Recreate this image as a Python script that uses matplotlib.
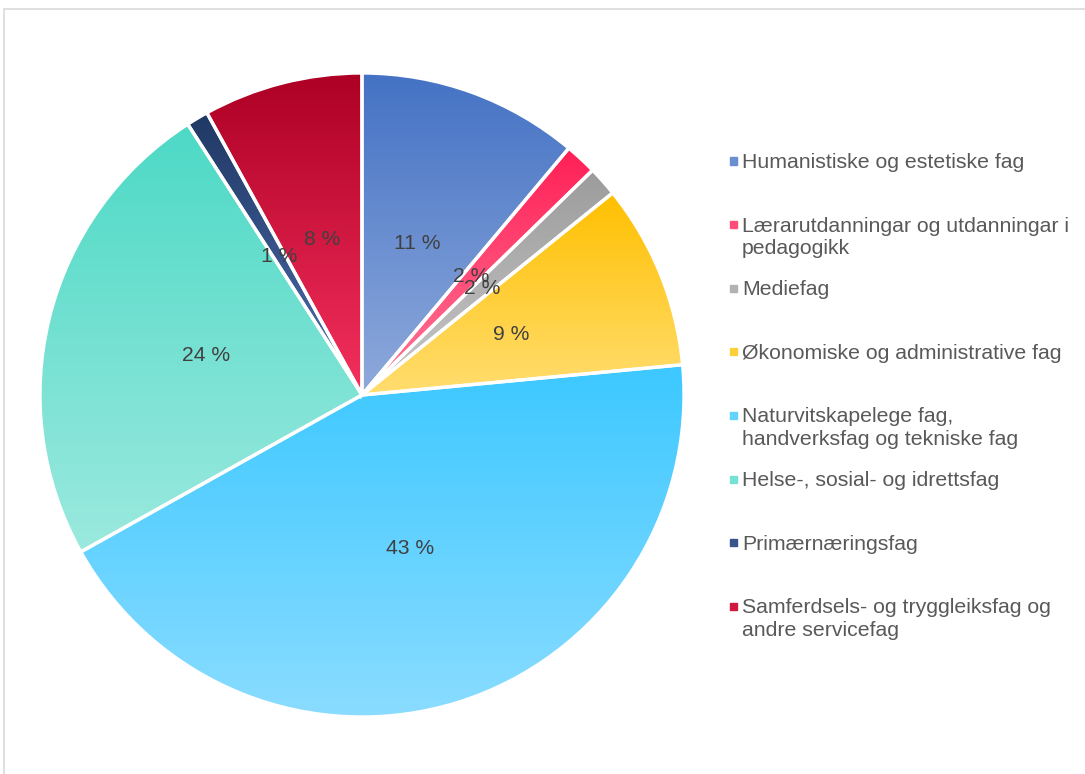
import matplotlib.pyplot as plt
import matplotlib.colors as mcolors
from matplotlib.patches import Rectangle
import numpy as np

plt.rcParams['font.family'] = ['Liberation Sans', 'DejaVu Sans']

# data (share in %)
categories = [
    "Humanistiske og estetiske fag",
    "Lærarutdanningar og utdanningar i\npedagogikk",
    "Mediefag",
    "Økonomiske og administrative fag",
    "Naturvitskapelege fag,\nhandverksfag og tekniske fag",
    "Helse-, sosial- og idrettsfag",
    "Primærnæringsfag",
    "Samferdsels- og tryggleiksfag og\nandre servicefag",
]
shares = [11.1, 1.6, 1.5, 9.3, 43.4, 24.0, 1.1, 8.0]

# gradient colours, top -> bottom
top_cols = ["#4472C4", "#FF1F56", "#9C9C9C", "#FFC000",
            "#3CC8FF", "#4DD9C6", "#203864", "#AD0024"]
bot_cols = ["#8FAADC", "#FF7A9A", "#C8C8C8", "#FFDD70",
            "#8ADCFF", "#9BE9DE", "#4F6FB0", "#F5305E"]

W, H = 1085, 774
fig = plt.figure(figsize=(W / 100, H / 100), dpi=100)

# light frame (right and bottom edges fall outside the picture)
fig.patches.append(Rectangle((4 / W, -0.05), 1.2, 1.05 - 9 / H, transform=fig.transFigure,
                             fill=False, edgecolor="#D9D9D9", linewidth=1.2))

cx, cy, r = 362, 395, 322
ax = fig.add_axes([(cx - r) / W, (H - cy - r) / H, 2 * r / W, 2 * r / H])

wedges, texts, autotexts = ax.pie(
    shares, startangle=90, counterclock=False, radius=1,
    autopct=lambda p: "%.0f %%" % p, pctdistance=0.5,
    wedgeprops=dict(edgecolor="white", linewidth=2.4),
    textprops=dict(color="#404040", fontsize=15.2),
)

for i, w in enumerate(wedges):
    t = np.deg2rad(np.linspace(w.theta1, w.theta2, 200))
    xs = np.concatenate([[0], np.cos(t)])
    ys = np.concatenate([[0], np.sin(t)])
    c1 = np.array(mcolors.to_rgb(top_cols[i]))
    c2 = np.array(mcolors.to_rgb(bot_cols[i]))
    f = np.linspace(0, 1, 256)[:, None]
    grad = (c1 * (1 - f) + c2 * f)[:, None, :]
    im = ax.imshow(grad, extent=[xs.min(), xs.max(), ys.min(), ys.max()],
                   origin="upper", aspect="auto", zorder=1)
    im.set_clip_path(w)
    w.set_facecolor("none")
    w.set_zorder(3)

for t in autotexts:
    t.set_zorder(5)

ax.set_xlim(-1, 1)
ax.set_ylim(-1, 1)
ax.axis("off")

# legend, evenly spaced slots like the original
slot0, step = 161, 63.6
for i, lab in enumerate(categories):
    y = slot0 + i * step
    mid = (np.array(mcolors.to_rgb(top_cols[i])) + np.array(mcolors.to_rgb(bot_cols[i]))) / 2
    fig.patches.append(Rectangle((730 / W, 1 - (y + 3.5) / H), 7 / W, 7 / H,
                                 transform=fig.transFigure, color=mid))
    fig.text(742 / W, 1 - (y - 8) / H, lab, fontsize=15.3, color="#595959",
             va="top", ha="left", linespacing=1.22)

fig.savefig("out.png", dpi=100)
